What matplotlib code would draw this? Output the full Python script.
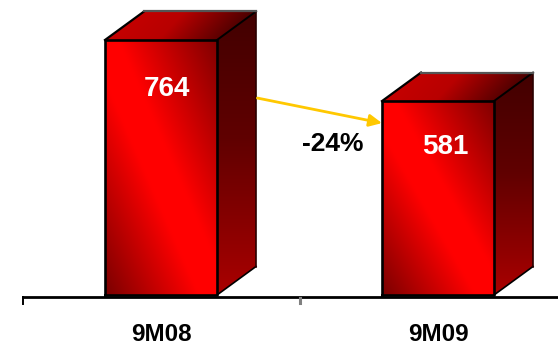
import numpy as np
from matplotlib import pyplot as plt
from matplotlib.colors import LinearSegmentedColormap
from matplotlib.patches import Polygon

categories = ['9M08', '9M09']
values = [764, 581]
change_label = '-24%'
arrow_values = [590, 515]

plt.rcParams['font.family'] = ['Liberation Sans', 'DejaVu Sans']

fig = plt.figure(figsize=(5.58, 3.47), dpi=100)
ax = fig.add_axes([0, 0, 1, 1])
x_unit = 277
y_unit = 0.3338
ax.set_xlim(-161 / x_unit, (558 - 161) / x_unit)
ax.set_ylim(-52 / y_unit, 295 / y_unit)
ax.axis('off')

half = 56 / x_unit
dx = 39 / x_unit
dy = 28.5 / y_unit

front_cmap = LinearSegmentedColormap.from_list(
    'front', [(0, '#7a0000'), (0.42, '#ff0000'), (0.56, '#ff0000'), (1, '#800000')])
top_cmap = LinearSegmentedColormap.from_list(
    'top', [(0, '#cc0000'), (0.45, '#b80000'), (0.85, '#4a0000'), (1, '#640000')])
side_cmap = LinearSegmentedColormap.from_list(
    'side', [(0, '#420000'), (0.45, '#600000'), (1, '#aa0000')])

# value labels sit at their own offsets (px) inside each bar
label_dx = [6, 7]
label_dy = [49, 46]


def shade(points, cmap, gradient):
    # fill a polygon with a gradient image clipped to its outline
    pts = np.array(points)
    x0, x1 = pts[:, 0].min(), pts[:, 0].max()
    y0, y1 = pts[:, 1].min(), pts[:, 1].max()
    u, v = np.meshgrid(np.linspace(0, 1, 200), np.linspace(0, 1, 200))
    im = ax.imshow(gradient(u, v), cmap=cmap, vmin=0, vmax=1, origin='lower',
                   extent=[x0, x1, y0, y1], aspect='auto', zorder=2)
    outline = Polygon(points, closed=True, facecolor='none', edgecolor='none', zorder=2)
    ax.add_patch(outline)
    im.set_clip_path(outline)


def edge(xs, ys, color='black', lw=1.9):
    ax.plot(xs, ys, color=color, lw=lw, zorder=3, solid_capstyle='projecting')


for i, val in enumerate(values):
    l, r = i - half, i + half
    shade([(l, 0), (r, 0), (r, val), (l, val)], front_cmap, lambda u, v: (u + v) / 2)
    shade([(r, 0), (r + dx, dy), (r + dx, val + dy), (r, val)], side_cmap, lambda u, v: 1 - v)
    shade([(l, val), (r, val), (r + dx, val + dy), (l + dx, val + dy)], top_cmap,
          lambda u, v: np.clip(0.85 * u + 0.15 * (1 - v), 0, 1))

    # outline of the box
    edge([l, l, r, r, l], [0, val, val, 0, 0])
    edge([l, l + dx], [val, val + dy], lw=1.6)
    edge([r, r + dx], [val, val + dy], lw=1.4)
    edge([r, r + dx], [0, dy], lw=1.2)
    edge([r + dx, r + dx], [dy, val + dy], color='#2a0000', lw=1.2)
    edge([l + dx, r + dx], [val + dy, val + dy], color='#555555', lw=1.6)

    ax.text(i + label_dx[i] / x_unit, val - label_dy[i] / y_unit, str(val), color='white',
            fontsize=20, fontweight='bold', ha='center', va='center', zorder=4)
    ax.text(i, -39.5 / y_unit, categories[i], color='black', fontsize=17.5, fontweight='bold',
            ha='center', va='center', zorder=4)

# baseline with ticks between the categories
ax.plot([-0.5, 1.5], [-1.5 / y_unit, -1.5 / y_unit], color='black', lw=2, zorder=3)
ax.plot([-0.5, -0.5], [-1.5 / y_unit, -9 / y_unit], color='black', lw=1.4, zorder=3)
ax.plot([0.5, 0.5], [-3 / y_unit, -8 / y_unit], color='#808080', lw=2.2, zorder=3)

# change arrow from the first bar to the second
ax.annotate('', xy=(1 - half, arrow_values[1]), xytext=(half + dx + 0.005, arrow_values[0]),
            arrowprops=dict(arrowstyle='-|>,head_width=0.36,head_length=0.75', color='#ffc800',
                            lw=2, shrinkA=0, shrinkB=0), zorder=5)
ax.text(0.62, 452, change_label, color='black', fontsize=19, fontweight='bold',
        ha='center', va='center', zorder=4)

fig.savefig('out.png', dpi=100, facecolor='white')
